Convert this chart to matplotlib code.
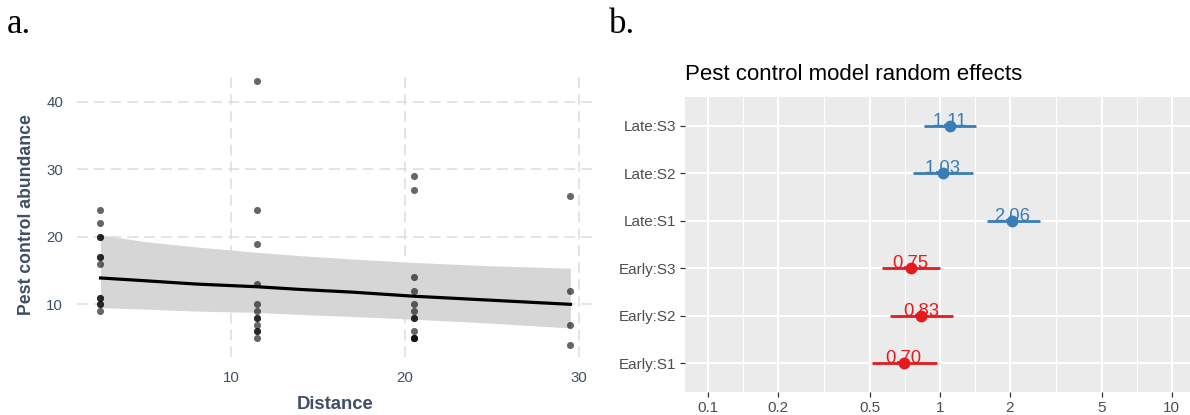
import matplotlib
matplotlib.use("Agg")
import matplotlib.pyplot as plt
import numpy as np

# ---------------- data: panel a ----------------
dist_pts = [2.5] * 12 + [11.5] * 12 + [20.5] * 12 + [29.5] * 4
abund_pts = [24, 22, 20, 20, 17, 17, 16, 11, 11, 10, 10, 9,
             43, 24, 19, 13, 10, 9, 8, 8, 7, 6, 6, 5,
             29, 27, 14, 12, 10, 9, 8, 8, 6, 5, 5, 5,
             26, 12, 7, 4]
fit_x = [2.5, 5.0, 8.0, 11.5, 14.0, 17.0, 20.5, 25.0, 29.5]
fit_y = [13.9, 13.5, 13.0, 12.6, 12.2, 11.8, 11.2, 10.6, 10.0]
fit_lo = [9.5, 9.3, 9.0, 8.8, 8.5, 8.2, 7.8, 7.2, 6.5]
fit_hi = [20.3, 19.3, 18.5, 17.7, 17.2, 16.7, 16.2, 15.7, 15.35]
a_xticks = [10, 20, 30]
a_yticks = [10, 20, 30, 40]

# ---------------- data: panel b ----------------
terms = ["Early:S1", "Early:S2", "Early:S3", "Late:S1", "Late:S2", "Late:S3"]
estimates = [0.70, 0.83, 0.75, 2.06, 1.03, 1.11]
ci_low = [0.51, 0.61, 0.565, 1.60, 0.77, 0.86]
ci_high = [0.97, 1.14, 1.00, 2.70, 1.39, 1.44]
groups = ["Early", "Early", "Early", "Late", "Late", "Late"]
b_xticks = [0.1, 0.2, 0.5, 1, 2, 5, 10]
b_xticklabels = ["0.1", "0.2", "0.5", "1", "2", "5", "10"]

plt.rcParams['font.family'] = ['Liberation Sans', 'DejaVu Sans']

W, H = 1190, 415
fig = plt.figure(figsize=(W / 100, H / 100), dpi=100)

# ---------------- panel a ----------------
slate = "#3F4F66"
ax1 = fig.add_axes([77 / W, (H - 357) / H, (593 - 77) / W, (357 - 73) / H])
ax1.set_xlim(1.15, 30.8)
ax1.set_ylim(2.2, 44.25)
for s in ax1.spines.values():
    s.set_visible(False)
ax1.set_xticks(a_xticks)
ax1.set_yticks(a_yticks)
ax1.tick_params(length=0, labelsize=10.8, colors=slate, pad=10)
ax1.grid(True, color="#DCDCDC", linewidth=1.1, linestyle=(0, (7, 4)))
ax1.set_axisbelow(True)
ax1.fill_between(fit_x, fit_lo, fit_hi, color="#D6D6D6", linewidth=0, zorder=2)
ax1.plot(fit_x, fit_y, color="black", linewidth=2.3, zorder=3)
ax1.scatter(dist_pts, abund_pts, s=26, color="black", alpha=0.6, linewidths=0, zorder=4)
ax1.set_xlabel("Distance", fontsize=13.3, fontweight="bold", color=slate, labelpad=8)
ax1.set_ylabel("Pest control abundance", fontsize=12.7, fontweight="bold", color=slate, labelpad=8)

# ---------------- panel b ----------------
ax2 = fig.add_axes([685 / W, (H - 392) / H, (W - 685) / W, (392 - 97) / H])
ax2.set_facecolor("#EBEBEB")
for s in ax2.spines.values():
    s.set_visible(False)
ax2.set_xscale("log")
ax2.set_xlim(0.0798, 12.0)
ypos = np.arange(len(terms))
ax2.set_ylim(-0.6, len(terms) - 1 + 0.6)
ax2.set_yticks(ypos)
ax2.set_yticklabels(terms)
ax2.set_xticks(b_xticks)
ax2.set_xticklabels(b_xticklabels)
ax2.xaxis.set_minor_locator(matplotlib.ticker.NullLocator())
for a, b in zip(b_xticks[:-1], b_xticks[1:]):
    ax2.axvline(np.sqrt(a * b), color="white", linewidth=0.8, zorder=0.5)
for xv in b_xticks:
    ax2.axvline(xv, color="white", linewidth=1.5, zorder=0.6)
for yv in ypos:
    ax2.axhline(yv, color="white", linewidth=1.5, zorder=0.6)
ax2.tick_params(axis="both", length=3.5, width=0.9, color="#333333",
                labelsize=11, labelcolor="#4D4D4D", pad=3)

col_map = {"Early": "#E41A1C", "Late": "#377EB8"}
for i in range(len(terms)):
    c = col_map[groups[i]]
    ax2.plot([ci_low[i], ci_high[i]], [ypos[i], ypos[i]], color=c, linewidth=2.0, zorder=3,
             solid_capstyle="butt")
    ax2.plot(estimates[i], ypos[i], "o", color=c, markersize=7.5, zorder=4)
    ax2.text(estimates[i], ypos[i], f"{estimates[i]:.2f}", color=c, fontsize=13.3,
             ha="center", va="baseline", zorder=5)

fig.text(685 / W, 1 - 75 / H, "Pest control model random effects", fontsize=16,
         ha="left", va="center", color="black")

# panel letters
fig.text(7 / W, 1 - 32.7 / H, "a.", fontsize=25, family="Liberation Serif", ha="left", va="baseline")
fig.text(609 / W, 1 - 32.7 / H, "b.", fontsize=25, family="Liberation Serif", ha="left", va="baseline")

fig.savefig("out.png", dpi=100, facecolor="white")
